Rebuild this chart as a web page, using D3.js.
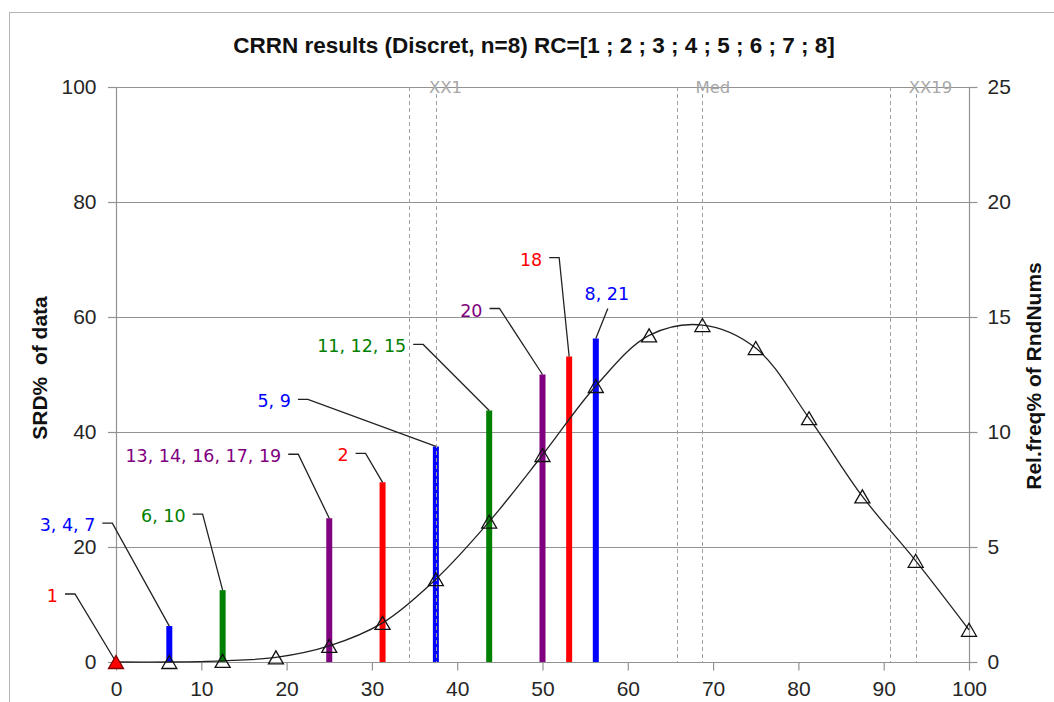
<!DOCTYPE html>
<html>
<head>
<meta charset="utf-8">
<script src="https://cdn.jsdelivr.net/npm/d3@7"></script>
<style>
  html, body { margin: 0; padding: 0; background: #fff; }
  svg { display: block; }
</style>
</head>
<body>
<svg id="chart" width="1054" height="702"></svg>
<script>
// ---------------- DATA ----------------
const chartTitle = "CRRN results (Discret, n=8) RC=[1 ; 2 ; 3 ; 4 ; 5 ; 6 ; 7 ; 8]";
const leftAxisTitle = "SRD%  of data";
const rightAxisTitle = "Rel.freq% of RndNums";

const xTicks = [0, 10, 20, 30, 40, 50, 60, 70, 80, 90, 100];
const leftTicks = [0, 20, 40, 60, 80, 100];
const rightTicks = [0, 5, 10, 15, 20, 25];

// relative frequency curve (right axis)
const curveX = [0, 6.25, 12.5, 18.75, 25, 31.25, 37.5, 43.75, 50, 56.25, 62.5, 68.75, 75, 81.25, 87.5, 93.75, 100];
const curveY = [0, 0, 0.05, 0.2, 0.7, 1.7, 3.6, 6.1, 9.0, 12.0, 14.2, 14.65, 13.65, 10.6, 7.2, 4.4, 1.4];

// SRD bars (left axis)
const barX = [0, 6.25, 12.5, 25, 31.25, 37.5, 43.75, 50, 53.125, 56.25];
const barY = [0, 6.25, 12.5, 25, 31.25, 37.5, 43.75, 50, 53.125, 56.25];
const barLabels = ["1", "3, 4, 7", "6, 10", "13, 14, 16, 17, 19", "2", "5, 9", "11, 12, 15", "20", "18", "8, 21"];
const barGroups = ["red", "blue", "green", "purple", "red", "blue", "green", "purple", "red", "blue"];

// reference markers (dashed verticals)
const markerLines = [34.4, 37.5, 65.8, 68.75, 90.7, 93.75];
const markerNames = ["XX1", "Med", "XX19"];
const markerNameAt = [37.5, 68.75, 93.75];

// ---------------- LAYOUT / STYLE ----------------
const colorMap = { red: "#ff0000", blue: "#0000ff", green: "#008000", purple: "#800080" };
// label elbow offsets (px) from bar top
const labelElbow = [[-41, -68], [-57, -103], [-20, -76], [-31, -64], [-17, -29], [-128, -47], [-66, -66], [-43, -66], [-10, -99], [12, -30]];

const svg = d3.select("#chart");
const W = 1054, H = 702;
const plot = { left: 116, right: 969, top: 87, bottom: 662 };

const x = d3.scaleLinear().domain([0, 100]).range([plot.left, plot.right]);
const yL = d3.scaleLinear().domain([0, 100]).range([plot.bottom, plot.top]);
const yR = d3.scaleLinear().domain([0, 25]).range([plot.bottom, plot.top]);

const gridColor = "#929292";
const tickFont = "'Liberation Sans', Arial, sans-serif";
const labelFont = "'DejaVu Sans', Verdana, sans-serif";

// outer chart border
svg.append("rect").attr("x", 9.5).attr("y", 12.5).attr("width", W + 20).attr("height", H + 20)
  .attr("fill", "none").attr("stroke", "#b4b4b4").attr("stroke-width", 1);

// title
svg.append("text").attr("x", 534).attr("y", 53).attr("text-anchor", "middle")
  .attr("font-family", tickFont).attr("font-weight", "bold").attr("font-size", 22.5)
  .attr("fill", "#111").text(chartTitle);

// horizontal gridlines
const gGrid = svg.append("g");
gGrid.selectAll("line.h").data(leftTicks).join("line")
  .attr("x1", plot.left - 8).attr("x2", plot.right + 8)
  .attr("y1", d => Math.round(yL(d)) + 0.5).attr("y2", d => Math.round(yL(d)) + 0.5)
  .attr("stroke", gridColor).attr("stroke-width", 1.2);

// left axis
const leftAxis = d3.axisLeft(yL).tickValues(leftTicks).tickSize(8).tickPadding(12);
const gL = svg.append("g").attr("transform", `translate(${plot.left + 0.5},0)`).call(leftAxis);
// right axis
const rightAxis = d3.axisRight(yR).tickValues(rightTicks).tickSize(8).tickPadding(10);
const gR = svg.append("g").attr("transform", `translate(${plot.right + 0.5},0)`).call(rightAxis);
// bottom axis
const bottomAxis = d3.axisBottom(x).tickValues(xTicks).tickSize(8).tickPadding(11);
const gB = svg.append("g").attr("transform", `translate(0,${plot.bottom + 0.5})`).call(bottomAxis);

[gL, gR, gB].forEach(g => {
  g.select(".domain").attr("stroke", gridColor).attr("stroke-width", 1.2);
  g.selectAll(".tick line").attr("stroke", gridColor).attr("stroke-width", 1.2);
  g.selectAll(".tick text").attr("font-family", tickFont).attr("font-size", 21).attr("fill", "#262626");
});
gL.select(".domain").attr("d", `M0,${plot.top}V${plot.bottom}`);
gR.select(".domain").attr("d", `M0,${plot.top}V${plot.bottom}`);
gB.select(".domain").attr("d", `M${plot.left},0H${plot.right}`);

// axis titles
svg.append("text").attr("transform", `translate(47,368) rotate(-90)`).attr("text-anchor", "middle")
  .attr("font-family", tickFont).attr("font-weight", "bold").attr("font-size", 21).attr("fill", "#111")
  .attr("xml:space", "preserve").style("white-space", "pre")
  .text(leftAxisTitle);
svg.append("text").attr("transform", `translate(1041,376) rotate(-90)`).attr("text-anchor", "middle")
  .attr("font-family", tickFont).attr("font-weight", "bold").attr("font-size", 21).attr("fill", "#111")
  .text(rightAxisTitle);

// bars
const bars = barX.map((d, i) => ({ x: d, y: barY[i], label: barLabels[i], color: colorMap[barGroups[i]], elbow: labelElbow[i] }));
svg.append("g").selectAll("line").data(bars.filter(d => d.y > 0)).join("line")
  .attr("x1", d => x(d.x)).attr("x2", d => x(d.x))
  .attr("y1", yL(0)).attr("y2", d => yL(d.y))
  .attr("stroke", d => d.color).attr("stroke-width", 6);

// dashed marker lines
svg.append("g").selectAll("line").data(markerLines).join("line")
  .attr("x1", d => Math.round(x(d)) + 0.5).attr("x2", d => Math.round(x(d)) + 0.5)
  .attr("y1", plot.top).attr("y2", plot.bottom)
  .attr("stroke", "#a0a0a0").attr("stroke-width", 1).attr("stroke-dasharray", "4,3");

svg.append("g").selectAll("text").data(markerNames).join("text")
  .attr("x", (d, i) => x(markerNameAt[i]) - 7).attr("y", plot.top + 6)
  .attr("font-family", labelFont).attr("font-size", 16.5).attr("fill", "#a8a8a8")
  .text(d => d);

// curve
const pts = curveX.map((d, i) => [x(d), yR(curveY[i])]);
svg.append("path").attr("d", d3.line().curve(d3.curveCatmullRom.alpha(0.5))(pts))
  .attr("fill", "none").attr("stroke", "#222").attr("stroke-width", 1.3);

// leader lines and labels
const gLab = svg.append("g");
bars.forEach((d, i) => {
  const bx = x(d.x), by = yL(d.y);
  const ex = bx + d.elbow[0], ey = by + d.elbow[1];
  if (d.elbow[0] > 0) {
    gLab.append("path").attr("d", `M${bx},${by}L${ex},${ey}`)
      .attr("fill", "none").attr("stroke", "#222").attr("stroke-width", 1.3);
    gLab.append("text").attr("x", ex - 1).attr("y", ey - 15).attr("text-anchor", "middle")
      .attr("dominant-baseline", "central")
      .attr("font-family", labelFont).attr("font-size", 17.5).attr("fill", d.color).text(d.label);
  } else {
    gLab.append("path").attr("d", `M${bx},${by}L${ex},${ey}H${ex - 10}`)
      .attr("fill", "none").attr("stroke", "#222").attr("stroke-width", 1.3);
    gLab.append("text").attr("x", ex - 17).attr("y", ey + 2).attr("text-anchor", "end")
      .attr("dominant-baseline", "central")
      .attr("font-family", labelFont).attr("font-size", 17.5).attr("fill", d.color).text(d.label);
  }
});

// triangle markers
const tri = "M0,-6.5L7.5,6.5L-7.5,6.5Z";
svg.append("g").selectAll("path").data(pts).join("path")
  .attr("transform", d => `translate(${d[0]},${d[1]})`)
  .attr("d", tri)
  .attr("fill", (d, i) => i === 0 ? "#ff0000" : "none")
  .attr("stroke", (d, i) => i === 0 ? "#800000" : "#111")
  .attr("stroke-width", 1.3);
</script>
</body>
</html>
